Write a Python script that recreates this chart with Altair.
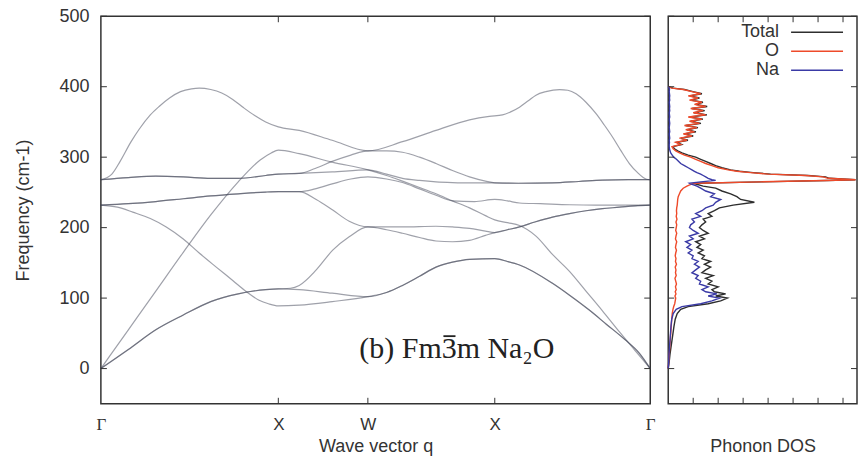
import altair as alt
import pandas as pd

SANS = "Liberation Sans"
SERIF = "Liberation Serif"
INK = "#333333"

# ---- path through the Brillouin zone (fraction of path length) ----
sym_labels = ["Γ", "X", "W", "X", "Γ"]
sym_pos = [0.0, 0.323, 0.486, 0.717, 1.0]
freq_ticks = [0, 100, 200, 300, 400, 500]
dos_ticks = [1, 2, 3, 4, 5, 6, 7]

# ---- phonon branches: wave vector q and frequency (cm-1) ----
A_q = [0.0, 0.02, 0.035, 0.055, 0.07, 0.09, 0.106, 0.125, 0.145, 0.165, 0.179, 0.2, 0.22, 0.24,
       0.26, 0.28, 0.3, 0.323, 0.361, 0.421, 0.486, 0.549, 0.61, 0.671, 0.707, 0.731, 0.745, 0.762,
       0.778, 0.792, 0.81, 0.835, 0.85, 0.865, 0.883, 0.901, 0.916, 0.931, 0.946, 0.962, 0.977,
       0.992, 1.0]
A_f = [268, 276, 294, 322, 340, 360, 372, 384, 393, 397, 398, 396, 391, 382,
       370, 359, 350, 343, 338, 324, 309, 322, 338, 353, 358, 360, 364, 371,
       380, 388, 393, 396, 395, 390, 378, 362, 346, 329, 310, 291, 278,
       269, 268]

B1_q = [0.0, 0.05, 0.1, 0.15, 0.2, 0.25, 0.3, 0.323, 0.361, 0.39, 0.421, 0.455, 0.486, 0.52,
        0.549, 0.58, 0.61, 0.64, 0.671, 0.7, 0.717, 0.76, 0.822, 0.87, 0.913, 0.96, 1.0]
B1_f = [268, 271, 273, 272, 270, 270, 274, 276, 277, 284, 294, 303, 309, 309,
        307, 300, 291, 281, 272, 266, 263.5, 263, 263.5, 265.5, 267.5, 268, 268]

B2_q = [0.0, 0.05, 0.1, 0.15, 0.2, 0.25, 0.3, 0.323, 0.361, 0.421, 0.486, 0.52, 0.549, 0.58,
        0.61, 0.64, 0.671, 0.717, 0.76, 0.822, 0.87, 0.913, 0.96, 1.0]
B2_f = [268, 271, 273, 272, 270, 270, 274, 276, 277, 279, 282, 276, 270, 267,
        265, 264, 263.5, 263.5, 263, 263.5, 265.5, 267.5, 268, 268]

C1_q = [0.0, 0.05, 0.1, 0.15, 0.2, 0.25, 0.3, 0.323, 0.361, 0.39, 0.421, 0.455, 0.486, 0.52,
        0.549, 0.58, 0.61, 0.64, 0.68, 0.717, 0.74, 0.762, 0.8, 0.853, 0.9, 0.95, 1.0]
C1_f = [232, 234, 237, 241, 245, 248, 250.5, 251, 251, 255, 262, 269, 272, 269,
        264, 255, 246, 238, 237, 240, 238, 235, 234, 232.5, 232, 232, 232]

C2_q = [0.0, 0.05, 0.1, 0.15, 0.2, 0.25, 0.3, 0.323, 0.361, 0.392, 0.422, 0.452, 0.486, 0.52,
        0.549, 0.61, 0.64, 0.671, 0.7, 0.717, 0.74, 0.762, 0.79, 0.822, 0.853, 0.883, 0.913,
        0.944, 0.972, 1.0]
C2_f = [232, 234, 237, 241, 245, 248, 250.5, 251, 251, 240, 225, 209, 201, 201,
        201, 202, 201, 199, 195, 193, 197, 201, 208, 215, 220, 224, 227,
        229, 231, 232]

F1_q = [0.0, 0.05, 0.1, 0.15, 0.2, 0.25, 0.3, 0.323, 0.345, 0.361, 0.392, 0.422, 0.452, 0.486,
        0.52, 0.549, 0.58, 0.61, 0.64, 0.671, 0.7, 0.717, 0.74, 0.762, 0.79, 0.822, 0.853,
        0.883, 0.913, 0.944, 0.972, 1.0]
F1_f = [0, 27, 55, 76, 95, 106, 112, 113, 114, 118, 140, 168, 187, 201,
        197, 192, 186, 181, 180, 182, 189, 193, 197, 201, 208, 215, 220,
        224, 227, 229, 231, 232]

F2_q = [0.0, 0.05, 0.1, 0.15, 0.2, 0.25, 0.3, 0.323, 0.361, 0.421, 0.486, 0.52, 0.549, 0.58,
        0.61, 0.64, 0.671, 0.717, 0.74, 0.762, 0.822, 0.855, 0.889, 0.92, 0.954, 0.98, 1.0]
F2_f = [0, 27, 55, 76, 95, 106, 112, 113, 112, 107, 102, 108, 118, 131,
        144, 151, 155, 156, 152, 147, 121, 103, 83, 63, 41, 22, 0]

D_q = [0.0, 0.03, 0.058, 0.09, 0.119, 0.15, 0.179, 0.21, 0.24, 0.265, 0.288, 0.305, 0.323, 0.361,
       0.421, 0.486, 0.52, 0.549, 0.58, 0.61, 0.64, 0.671, 0.717, 0.74, 0.762, 0.822, 0.855,
       0.889, 0.92, 0.954, 0.98, 1.0]
D_f = [232, 229, 222, 213, 201, 184, 164, 144, 125, 109, 97, 92, 89, 90,
       95, 102, 108, 118, 131, 144, 151, 155, 156, 152, 147, 121, 103,
       83, 63, 41, 22, 0]

E_q = [0.0, 0.05, 0.1, 0.15, 0.2, 0.25, 0.29, 0.31, 0.323, 0.361, 0.421, 0.486, 0.52, 0.549,
       0.58, 0.61, 0.64, 0.671, 0.7, 0.717, 0.74, 0.762, 0.792, 0.822, 0.853, 0.883, 0.913,
       0.944, 0.972, 1.0]
E_f = [0, 55, 110, 165, 218, 265, 296, 306, 310, 305, 293, 282, 274, 266,
       257, 248, 238, 228, 217, 211, 207, 203, 188, 162, 138, 110, 82,
       52, 26, 0]

branches = {
    "A": (A_q, A_f), "B1": (B1_q, B1_f), "B2": (B2_q, B2_f),
    "C1": (C1_q, C1_f), "C2": (C2_q, C2_f), "F1": (F1_q, F1_f),
    "F2": (F2_q, F2_f), "D": (D_q, D_f), "E": (E_q, E_f),
}

# ---- phonon density of states ----
dos_freq = [0, 10, 20, 30, 40, 50, 60, 70, 78, 84,
            88, 92, 96, 100, 103, 106, 109, 112, 116, 120, 124, 128, 132, 136, 140, 144, 148,
            152, 156, 160, 164, 168, 172, 176, 180, 184, 188, 192, 196, 200, 204, 208, 212, 216,
            220, 224, 228, 232, 236, 240, 244, 248, 252, 256, 259, 262,
            263, 265, 267, 268, 270, 272, 274, 276, 278, 280, 282, 285, 288, 291, 294, 297, 300,
            303, 306, 309, 312, 315,
            318, 321, 324, 327, 330, 333, 336, 339, 342, 345, 348, 351, 354, 357, 360, 363, 366,
            369, 372, 375, 378, 381, 384, 387, 390, 393, 396, 398, 400]

dos_total = [0.0, 0.04, 0.07, 0.11, 0.15, 0.19, 0.23, 0.28, 0.36, 0.5,
             0.8, 1.6, 2.1, 2.37, 1.9, 2.3, 1.85, 1.75, 2.0, 1.6, 1.75, 1.5, 1.8, 1.35, 1.5, 1.7,
             1.45, 1.7, 1.35, 1.45, 1.2, 1.4, 1.15, 1.3, 1.1, 1.45, 1.25, 1.6, 1.4, 1.25, 1.35,
             1.5, 1.4, 1.75, 1.6, 1.85, 2.05, 2.6, 3.45, 2.9, 2.75, 2.5, 2.15, 1.9, 1.4, 1.1,
             1.15, 3.75, 6.35, 7.5, 6.45, 6.3, 5.6, 4.1, 3.4, 2.85, 2.5, 2.15, 1.9, 1.7, 1.5, 1.3,
             1.1, 0.8, 0.55, 0.38, 0.25, 0.19,
             0.54, 0.35, 0.79, 0.51, 1.0, 0.64, 1.11, 0.75, 1.19, 0.7, 1.31, 0.9, 1.39, 0.86,
             1.55, 1.04, 1.46, 0.95, 1.56, 1.1, 1.39, 0.91, 1.25, 0.86, 1.35, 0.99, 0.65, 0.19, 0.0]

dos_o = [0.0, 0.02, 0.04, 0.06, 0.08, 0.1, 0.12, 0.14, 0.16, 0.19,
         0.22, 0.26, 0.28, 0.3, 0.27, 0.31, 0.28, 0.32, 0.29, 0.33, 0.3, 0.27, 0.32, 0.29, 0.31,
         0.28, 0.33, 0.29, 0.31, 0.28, 0.3, 0.33, 0.29, 0.31, 0.34, 0.29, 0.31, 0.34, 0.3, 0.32,
         0.34, 0.31, 0.35, 0.32, 0.34, 0.33, 0.34, 0.36, 0.37, 0.38, 0.4, 0.45, 0.5, 0.6, 0.75,
         0.95,
         1.1, 3.7, 6.3, 7.5, 6.4, 6.2, 5.5, 4.0, 3.3, 2.75, 2.4, 2.0, 1.75, 1.5, 1.3, 1.1, 0.9,
         0.65, 0.45, 0.3, 0.2, 0.15,
         0.5, 0.3, 0.75, 0.45, 0.95, 0.6, 1.05, 0.7, 1.15, 0.65, 1.25, 0.85, 1.35, 0.8, 1.5,
         1.0, 1.4, 0.9, 1.5, 1.05, 1.35, 0.85, 1.2, 0.8, 1.3, 0.95, 0.6, 0.15, 0.0]

dos_na = [0.0, 0.02, 0.03, 0.05, 0.07, 0.09, 0.11, 0.14, 0.2, 0.32,
          0.55, 1.3, 1.75, 2.05, 1.6, 1.95, 1.5, 1.35, 1.6, 1.25, 1.3, 1.1, 1.2, 0.95, 1.1, 1.25,
          1.05, 1.2, 0.95, 1.0, 0.8, 0.95, 0.75, 0.9, 0.7, 1.0, 0.85, 1.2, 1.0, 0.85, 0.9, 1.05,
          0.95, 1.3, 1.1, 1.35, 1.5, 1.8, 1.9, 2.1, 1.7, 1.85, 1.5, 1.3, 1.15, 0.9,
          0.85, 1.3, 1.9, 1.75, 1.6, 1.5, 1.4, 1.3, 1.15, 1.05, 0.95, 0.8, 0.65, 0.5, 0.42, 0.33,
          0.22, 0.16, 0.1, 0.07, 0.05, 0.04,
          0.04, 0.05, 0.04, 0.06, 0.05, 0.04, 0.06, 0.05, 0.04, 0.05,
          0.06, 0.05, 0.04, 0.06, 0.05, 0.04, 0.06, 0.05, 0.06, 0.05,
          0.04, 0.06, 0.05, 0.06, 0.05, 0.04, 0.05, 0.04, 0.0]

series_names = ["Total", "O", "Na"]
series_colors = ["#2e2e2e", "#ee4a2a", "#3a3aa6"]
series_values = [dos_total, dos_o, dos_na]

# ---- layout ----
LEFT_W, RIGHT_W, PANEL_H = 550, 189, 388
TICK = 6

freq_scale = alt.Scale(domain=[-50, 500], nice=False, zero=False)
q_scale = alt.Scale(domain=[0, 1], nice=False, zero=False)
dos_scale = alt.Scale(domain=[0, 7.56], nice=False, zero=False)
color_scale = alt.Scale(domain=series_names, range=series_colors)

disp = pd.DataFrame(
    [{"branch": name, "q": q, "freq": f}
     for name, (qs, fs) in branches.items() for q, f in zip(qs, fs)]
)

label_expr = " : ".join(
    f"abs(datum.value - {p}) < 0.001 ? '{lab}'" for p, lab in zip(sym_pos, sym_labels)
) + " : ''"

gamma_font = {
    "condition": {"test": "datum.value < 0.01 || datum.value > 0.99", "value": SERIF},
    "value": SANS,
}

# one axis definition per channel, shared by every layer of a panel
q_axis = alt.Axis(
    values=sym_pos, labelExpr=label_expr, labelFont=gamma_font, labelFontSize=17,
    labelPadding=13, labelFlush=False, labelOverlap=False, title="Wave vector q",
    titleY=43, titleBaseline="middle")
freq_axis = alt.Axis(
    values=freq_ticks, labelPadding=12, labelFlush=False, labelOverlap=False,
    title="Frequency (cm-1)", titleX=-77, titleY=PANEL_H / 2, titleAngle=270,
    titleBaseline="middle", titleAlign="center")
dos_axis = alt.Axis(
    values=dos_ticks, labels=False, title="Phonon DOS", titleY=43, titleBaseline="middle")

qx = alt.X("q:Q", scale=q_scale, axis=q_axis)
fy = alt.Y("freq:Q", scale=freq_scale, axis=freq_axis)
fy_plain = alt.Y("freq:Q", scale=freq_scale, axis=None)
dx = alt.X("dos:Q", scale=dos_scale, axis=dos_axis)

bands = alt.Chart(disp).mark_line(
    interpolate="monotone", color="#404355", strokeWidth=1.2, opacity=0.5
).encode(x=qx, y=fy, detail="branch:N")

ytick_df = pd.DataFrame({"freq": freq_ticks})
qtick_df = pd.DataFrame({"q": sym_pos[1:-1]})
dtick_df = pd.DataFrame({"dos": dos_ticks})


def freq_tick_marks(width, y):
    left = alt.Chart(ytick_df).mark_rule(color=INK, strokeWidth=1).encode(
        y=y, x=alt.value(0), x2=alt.value(TICK))
    right = alt.Chart(ytick_df).mark_rule(color=INK, strokeWidth=1).encode(
        y=y, x=alt.value(width), x2=alt.value(width - TICK))
    return [left, right]


def horiz_tick_marks(df, x):
    bottom = alt.Chart(df).mark_rule(color=INK, strokeWidth=1).encode(
        x=x, y=alt.value(PANEL_H), y2=alt.value(PANEL_H - TICK))
    top = alt.Chart(df).mark_rule(color=INK, strokeWidth=1).encode(
        x=x, y=alt.value(0), y2=alt.value(TICK))
    return [bottom, top]


# space-group label "(b) Fm-3m Na2O" with the bar drawn over the 3
note_df = pd.DataFrame({"q": [0.4704], "freq": [15], "text": ["(b) Fm3m Na\u2082O"]})
note = alt.Chart(note_df).mark_text(
    font=SERIF, fontSize=30, color="#222222", align="left", baseline="alphabetic"
).encode(x=qx, y=fy, text="text:N")
bar_df = pd.DataFrame({"q": [0.6235], "q2": [0.6455], "freq": [46]})
note_bar = alt.Chart(bar_df).mark_rule(color="#222222", strokeWidth=1.8).encode(
    x=qx, x2="q2:Q", y=fy)

left = alt.layer(
    bands, *freq_tick_marks(LEFT_W, fy), *horiz_tick_marks(qtick_df, qx), note, note_bar
).properties(width=LEFT_W, height=PANEL_H)

# ---- density of states panel ----
dos_layers = []
for name, vals in zip(series_names, series_values):
    df = pd.DataFrame({"freq": dos_freq, "dos": vals, "series": name})
    dos_layers.append(
        alt.Chart(df).mark_line(strokeWidth=1.4).encode(
            x=dx, y=fy_plain,
            color=alt.Color("series:N", scale=color_scale, legend=None),
            order=alt.Order("freq:Q"),
        )
    )

legend_df = pd.DataFrame({"series": series_names})
legend_y = alt.Y("series:N", axis=None,
                 scale=alt.Scale(type="point", domain=series_names, range=[16, 54], padding=0))
legend_text = alt.Chart(legend_df).mark_text(
    align="right", baseline="middle", font=SANS, fontSize=18, color=INK
).encode(x=alt.value(111), y=legend_y, text="series:N")
legend_rule = alt.Chart(legend_df).mark_rule(strokeWidth=1.4).encode(
    x=alt.value(123), x2=alt.value(175), y=legend_y,
    color=alt.Color("series:N", scale=color_scale, legend=None),
)

right = alt.layer(
    *dos_layers, *freq_tick_marks(RIGHT_W, fy_plain), *horiz_tick_marks(dtick_df, dx),
    legend_text, legend_rule
).resolve_scale(y="independent").properties(width=RIGHT_W, height=PANEL_H)

chart = alt.hconcat(left, right, spacing=18, bounds="flush").properties(
    padding={"left": 14, "top": 6, "right": 1, "bottom": 3}
).configure_view(
    stroke=INK, strokeWidth=1.5
).configure_axis(
    grid=False, domain=False, ticks=False, tickSize=0,
    labelFont=SANS, labelFontSize=18, labelColor=INK,
    titleFont=SANS, titleFontSize=18, titleFontWeight="normal", titleColor=INK,
)

chart.save("out.html", embed_options={"renderer": "svg", "actions": False})
